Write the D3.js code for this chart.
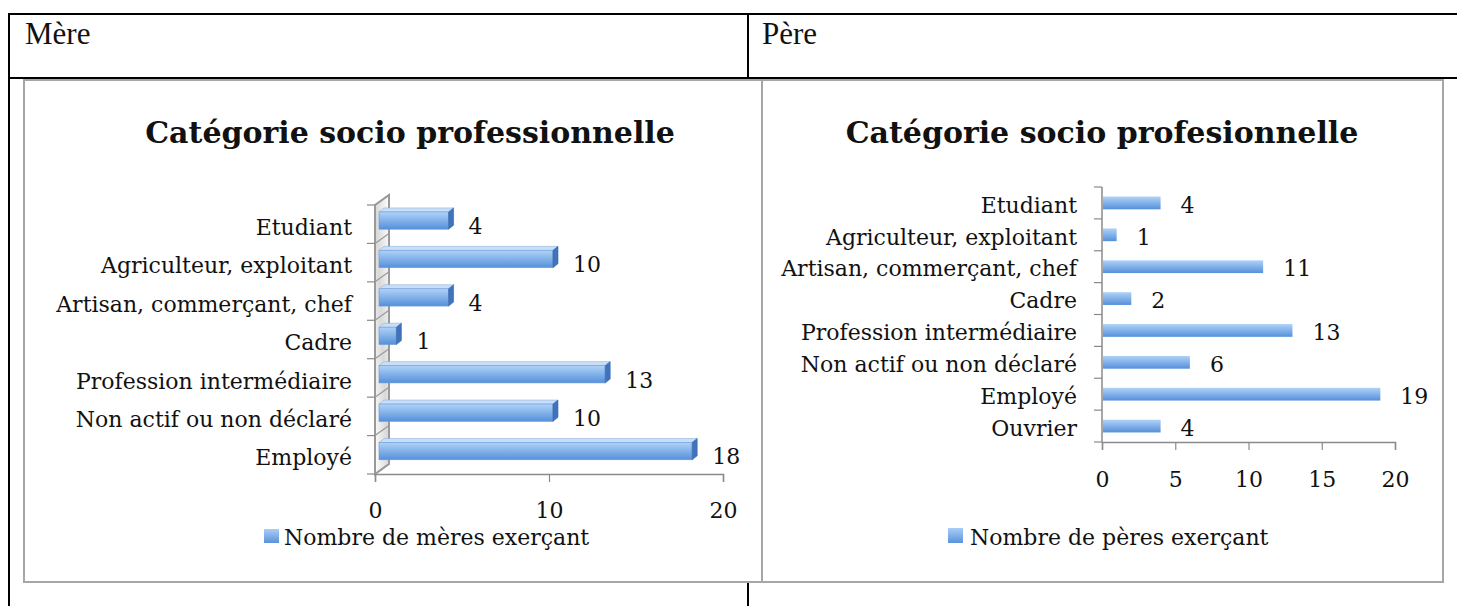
<!DOCTYPE html>
<html>
<head>
<meta charset="utf-8">
<script src="https://cdn.jsdelivr.net/npm/d3@7"></script>
<style>
  body { margin: 0; background: #fff; }
  svg { display: block; }
  .chart text { font-family: "DejaVu Serif", serif; fill: #111; }
</style>
</head>
<body>
<div id="page"></div>
<script>
// Data
const mereCategories = ["Etudiant", "Agriculteur, exploitant", "Artisan, commerçant, chef", "Cadre",
  "Profession intermédiaire", "Non actif ou non déclaré", "Employé"];
const mereValues = [4, 10, 4, 1, 13, 10, 18];
const mereTicks = [0, 10, 20];

const pereCategories = ["Etudiant", "Agriculteur, exploitant", "Artisan, commerçant, chef", "Cadre",
  "Profession intermédiaire", "Non actif ou non déclaré", "Employé", "Ouvrier"];
const pereValues = [4, 1, 11, 2, 13, 6, 19, 4];
const pereTicks = [0, 5, 10, 15, 20];

const width = 1457;
const height = 606;
const labelSize = 22;
const titleSize = 30;
const axisColor = "#8a8a8a";

const svg = d3.select("#page")
  .append("svg")
    .attr("class", "chart")
    .attr("width", width)
    .attr("height", height);

const defs = svg.append("defs");
const grad = defs.append("linearGradient").attr("id", "barGrad").attr("x1", 0).attr("y1", 0).attr("x2", 0).attr("y2", 1);
grad.append("stop").attr("offset", "0%").attr("stop-color", "#b0d2f8");
grad.append("stop").attr("offset", "100%").attr("stop-color", "#5590da");
const legGrad = defs.append("linearGradient").attr("id", "legGrad").attr("x1", 0).attr("y1", 0).attr("x2", 0).attr("y2", 1);
legGrad.append("stop").attr("offset", "0%").attr("stop-color", "#a9cdf6");
legGrad.append("stop").attr("offset", "100%").attr("stop-color", "#5a93da");
const wallGrad = defs.append("linearGradient").attr("id", "wallGrad").attr("x1", 0).attr("y1", 1).attr("x2", 1).attr("y2", 0);
wallGrad.append("stop").attr("offset", "0%").attr("stop-color", "#ffffff");
wallGrad.append("stop").attr("offset", "50%").attr("stop-color", "#d9d9d9");
wallGrad.append("stop").attr("offset", "100%").attr("stop-color", "#ffffff");

// --- table lines (document around the charts)
const table = svg.append("g").attr("stroke", "#000").attr("stroke-width", 2);
table.append("line").attr("x1", 9).attr("x2", width).attr("y1", 14).attr("y2", 14);
table.append("line").attr("x1", 9).attr("x2", width).attr("y1", 78).attr("y2", 78);
table.append("line").attr("x1", 9).attr("x2", 9).attr("y1", 13).attr("y2", height);
table.append("line").attr("x1", 748).attr("x2", 748).attr("y1", 14).attr("y2", 78);
table.append("line").attr("x1", 748).attr("x2", 748).attr("y1", 582).attr("y2", height);

svg.append("text").attr("x", 25).attr("y", 44)
  .style("font-family", "'Liberation Serif', serif").style("font-size", "31px").text("Mère");
svg.append("text").attr("x", 762).attr("y", 44)
  .style("font-family", "'Liberation Serif', serif").style("font-size", "31px").text("Père");

// chart frames
svg.append("rect").attr("x", 24).attr("y", 80).attr("width", 738).attr("height", 502)
  .attr("fill", "#fff").attr("stroke", "#a6a6a6").attr("stroke-width", 2);
svg.append("rect").attr("x", 762).attr("y", 80).attr("width", 681).attr("height", 502)
  .attr("fill", "#fff").attr("stroke", "#a6a6a6").attr("stroke-width", 2);

// ================= Mère: 3D bars =================
const left = svg.append("g");
left.append("text").attr("x", 410).attr("y", 143).attr("text-anchor", "middle")
  .style("font-size", titleSize + "px").style("font-weight", "bold").text("Catégorie socio professionnelle");

const xM = d3.scaleLinear().domain([0, 20]).range([375, 723]);
const yM = d3.scaleBand().domain(mereCategories).range([205, 474]);
const depthX = 14, depthY = -10;

// back wall
const [wTop, wBot] = yM.range();
left.append("path")
  .attr("d", `M${xM(0)},${wTop}L${xM(0) + depthX},${wTop + depthY}L${xM(0) + depthX},${wBot + depthY}L${xM(0)},${wBot}Z`)
  .attr("fill", "url(#wallGrad)").attr("stroke", "#9a9a9a").attr("stroke-width", 2);
const bounds = mereCategories.map(c => yM(c)).concat([wBot]);
left.append("g").selectAll("line").data(bounds).join("line")
  .attr("x1", xM(0)).attr("y1", d => d)
  .attr("x2", xM(0) + depthX).attr("y2", d => d + depthY)
  .attr("stroke", "#9a9a9a").attr("stroke-width", 1.2);
left.append("g").selectAll("line").data(bounds).join("line")
  .attr("x1", xM(0) - 8).attr("x2", xM(0)).attr("y1", d => d).attr("y2", d => d)
  .attr("stroke", axisColor).attr("stroke-width", 1.2);

// x axis (floor edge)
const axM = left.append("g").attr("transform", `translate(0,${wBot})`)
  .call(d3.axisBottom(xM).tickValues(mereTicks).tickSizeOuter(0).tickSize(8).tickPadding(20));
axM.select(".domain").attr("stroke", axisColor).attr("stroke-width", 1.5);
axM.selectAll(".tick line").attr("stroke", axisColor).attr("stroke-width", 1.2);
axM.selectAll(".tick text").style("font-size", labelSize + "px").attr("fill", "#111")
  .style("font-family", "'DejaVu Serif', serif");

// bars
const step = yM.step();
const bx = 4, bdx = 5, bdy = -4;
const barsM = left.append("g").selectAll("g").data(mereValues).join("g");
barsM.each(function (v, i) {
  const g = d3.select(this);
  const x0 = xM(0) + bx, x1 = xM(v) + bx;
  const yt = yM(mereCategories[i]) + step * 0.18, yb = yt + step * 0.45;
  g.append("path")
    .attr("d", `M${x0},${yt}L${x0 + bdx},${yt + bdy}L${x1 + bdx},${yt + bdy}L${x1},${yt}Z`)
    .attr("fill", "#c9def7").attr("stroke", "#8fb3e0").attr("stroke-width", 0.6);
  g.append("rect").attr("x", x0).attr("y", yt).attr("width", x1 - x0).attr("height", yb - yt)
    .attr("fill", "url(#barGrad)").attr("stroke", "#6a9bd8").attr("stroke-width", 0.6);
  g.append("path")
    .attr("d", `M${x1},${yt}L${x1 + bdx},${yt + bdy}L${x1 + bdx},${yb + bdy}L${x1},${yb}Z`)
    .attr("fill", "#3f73bb").attr("stroke", "#3a6aad").attr("stroke-width", 0.6);
  g.append("text").attr("x", x1 + 20).attr("y", yM(mereCategories[i]) + step / 2 + 2).attr("dy", "0.35em")
    .style("font-size", labelSize + "px").text(v);
});

// category labels
left.append("g").selectAll("text").data(mereCategories).join("text")
  .attr("x", 352).attr("y", d => yM(d) + step / 2 + 3).attr("dy", "0.35em")
  .attr("text-anchor", "end").style("font-size", labelSize + "px").text(d => d);

// legend
left.append("rect").attr("x", 264).attr("y", 529).attr("width", 15).attr("height", 14).attr("fill", "url(#legGrad)");
left.append("text").attr("x", 284).attr("y", 537).attr("dy", "0.35em")
  .style("font-size", labelSize + "px").text("Nombre de mères exerçant");

// ================= Père: flat bars =================
const right = svg.append("g");
right.append("text").attr("x", 1102).attr("y", 143).attr("text-anchor", "middle")
  .style("font-size", titleSize + "px").style("font-weight", "bold").text("Catégorie socio profesionnelle");

const xP = d3.scaleLinear().domain([0, 20]).range([1102, 1395]);
const yP = d3.scaleBand().domain(pereCategories).range([187, 442]).paddingInner(0.6).paddingOuter(0.3);

// bars
right.append("g").selectAll("rect").data(pereValues).join("rect")
  .attr("x", xP(0) + 1).attr("y", (d, i) => yP(pereCategories[i]))
  .attr("width", d => xP(d) - xP(0) - 1).attr("height", yP.bandwidth())
  .attr("fill", "url(#barGrad)");

right.append("g").selectAll("text").data(pereValues).join("text")
  .attr("x", d => xP(d) + 20).attr("y", (d, i) => yP(pereCategories[i]) + yP.bandwidth() / 2 + 2).attr("dy", "0.35em")
  .style("font-size", labelSize + "px").text(d => d);

// y axis line + boundary ticks
const [pTop, pBot] = yP.range();
const pStep = yP.step();
right.append("line").attr("x1", xP(0)).attr("x2", xP(0)).attr("y1", pTop).attr("y2", pBot)
  .attr("stroke", axisColor).attr("stroke-width", 1.5);
right.append("g").selectAll("line").data(d3.range(pereCategories.length + 1)).join("line")
  .attr("x1", xP(0) - 8).attr("x2", xP(0)).attr("y1", i => pTop + i * pStep).attr("y2", i => pTop + i * pStep)
  .attr("stroke", axisColor).attr("stroke-width", 1.2);

const axP = right.append("g").attr("transform", `translate(0,${pBot})`)
  .call(d3.axisBottom(xP).tickValues(pereTicks).tickSizeOuter(0).tickSize(8).tickPadding(21));
axP.select(".domain").attr("stroke", axisColor).attr("stroke-width", 1.5);
axP.selectAll(".tick line").attr("stroke", axisColor).attr("stroke-width", 1.2);
axP.selectAll(".tick text").style("font-size", labelSize + "px").attr("fill", "#111")
  .style("font-family", "'DejaVu Serif', serif");

right.append("g").selectAll("text").data(pereCategories).join("text")
  .attr("x", 1077).attr("y", d => yP(d) + yP.bandwidth() / 2 + 2).attr("dy", "0.35em")
  .attr("text-anchor", "end").style("font-size", labelSize + "px").text(d => d);

right.append("rect").attr("x", 948).attr("y", 528).attr("width", 15).attr("height", 15).attr("fill", "url(#legGrad)");
right.append("text").attr("x", 970).attr("y", 537).attr("dy", "0.35em")
  .style("font-size", labelSize + "px").text("Nombre de pères exerçant");
</script>
</body>
</html>
